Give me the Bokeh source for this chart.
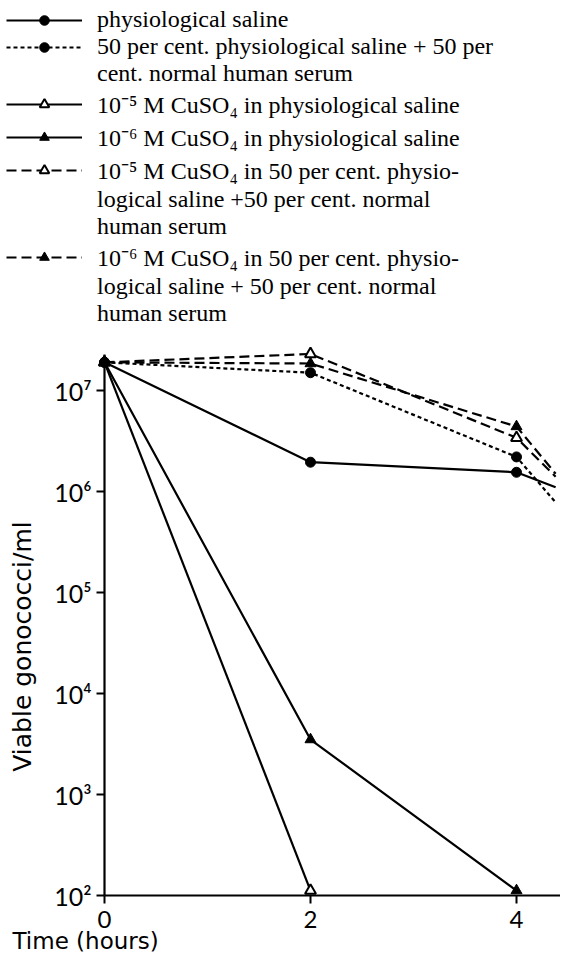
import math
from bokeh.plotting import figure
from bokeh.models import Legend, LegendItem, FixedTicker, Range1d, Label
from bokeh.embed import file_html
from bokeh.resources import INLINE

# ---- data ----
hours = [0, 2, 4, 4.38]           # last value: where the lines leave the picture
hours_cu5_saline = [0, 2]

saline = [1.9e7, 1.95e6, 1.55e6, 1.1e6]
serum = [1.9e7, 1.5e7, 2.2e6, 7.8e5]
cu5_saline = [1.9e7, 112]
cu6_saline = [1.9e7, 3.5e3, 112]
cu5_serum = [1.9e7, 2.3e7, 3.4e6, 1.4e6]
cu6_serum = [1.9e7, 1.85e7, 4.4e6, 1.5e6]

x_ticks = [0, 2, 4]
y_ticks = [10**2, 10**3, 10**4, 10**5, 10**6, 10**7]
y_tick_labels = ["10²", "10³", "10⁴", "10⁵", "10⁶", "10⁷"]

legend_rows = [
    "physiological saline",
    "50 per cent. physiological saline + 50 per",
    "cent. normal human serum",
    "10⁻⁵ M CuSO₄ in physiological saline",
    "10⁻⁶ M CuSO₄ in physiological saline",
    "10⁻⁵ M CuSO₄ in 50 per cent. physio-",
    "logical saline +50 per cent. normal",
    "human serum",
    "10⁻⁶ M CuSO₄ in 50 per cent. physio-",
    "logical saline + 50 per cent. normal",
    "human serum",
]

# ---- layout (pixels) ----
W, H = 560, 956
X0 = 104          # pixel of 0 h
PX_H = 103.0      # pixels per hour
Y2 = 895          # pixel of 10^2
PX_DEC = 101.0    # pixels per decade

LW = 2.2
DASH = "10 5"
DOT = "4 3"

styles = [
    (None, "circle", "black", 1),     # physiological saline
    (DOT, "circle", "black", 1),      # 50 % saline + 50 % serum
    (None, "triangle", "white", 2),   # 1e-5 CuSO4 saline
    (None, "triangle", "black", 1),   # 1e-6 CuSO4 saline
    (DASH, "triangle", "white", 2),   # 1e-5 CuSO4 serum
    (DASH, "triangle", "black", 1),   # 1e-6 CuSO4 serum
]
msize = {"circle": 10, "triangle": 11}

series = [
    (hours, saline, hours[:3], saline[:3]),
    (hours, serum, hours[:3], serum[:3]),
    (hours_cu5_saline, cu5_saline, hours_cu5_saline, cu5_saline),
    (hours[:3], cu6_saline, hours[:3], cu6_saline),
    (hours, cu5_serum, hours[:3], cu5_serum[:3]),
    (hours, cu6_serum, hours[:3], cu6_serum[:3]),
]

x_range = Range1d(-X0 / PX_H, (W - X0) / PX_H)
y_range = Range1d(10 ** (2 - (H - Y2) / PX_DEC), 10 ** (2 + Y2 / PX_DEC))

p = figure(width=W, height=H, output_backend="svg", toolbar_location=None,
           y_axis_type="log", x_range=x_range, y_range=y_range,
           min_border=0, min_border_left=0, min_border_right=0,
           min_border_top=0, min_border_bottom=0)
p.outline_line_color = None
p.grid.visible = False

renderers = []
for (lx, ly, mx, my), (dash, mk, fill, mlw) in zip(series, styles):
    kw = dict(line_width=LW, line_color="black")
    if dash:
        kw["line_dash"] = dash
    rl = p.line(lx, ly, **kw)
    rm = p.scatter(mx, my, marker=mk, size=msize[mk], fill_color=fill,
                   line_color="black", line_width=mlw)
    renderers.append([rl, rm])
blank = p.line(x=[], y=[], line_alpha=0)

# axes drawn at the data origin (0 h, 10^2)
xa = p.xaxis[0]
xa.fixed_location = 100
xa.bounds = (0, (W - X0) / PX_H)
xa.ticker = FixedTicker(ticks=x_ticks)
xa.minor_tick_line_color = None
xa.major_tick_out = 8
xa.major_tick_in = 0
xa.major_tick_line_width = 2
xa.axis_line_width = LW
xa.major_label_standoff = 7
xa.major_label_text_font = "Lato"
xa.major_label_text_font_size = "24px"
xa.major_label_text_color = "black"

ya = p.yaxis[0]
ya.fixed_location = 0
ya.bounds = (100, 10**7.36)
ya.ticker = FixedTicker(ticks=y_ticks)
ya.minor_tick_line_color = None
ya.major_tick_out = 8
ya.major_tick_in = 0
ya.major_tick_line_width = 2
ya.axis_line_width = LW
ya.major_label_standoff = 5
ya.major_label_text_font = "Lato"
ya.major_label_text_font_size = "25px"
ya.major_label_text_color = "black"
ya.major_label_overrides = {t: s for t, s in zip(y_ticks, y_tick_labels)}

p.add_layout(Label(x=22, y=H - 646, x_units="screen", y_units="screen",
                   text="Viable gonococci/ml", angle=math.pi / 2,
                   text_align="center", text_baseline="middle",
                   text_font="DejaVu Sans", text_font_size="25px", text_color="black"))
p.add_layout(Label(x=12, y=H - 940, x_units="screen", y_units="screen",
                   text="Time (hours)", text_align="left", text_baseline="middle",
                   text_font="DejaVu Sans", text_font_size="23px", text_color="black"))

row_renderers = [
    renderers[0],
    renderers[1], [blank],
    renderers[2],
    renderers[3],
    renderers[4], [blank], [blank],
    renderers[5], [blank], [blank],
]
items = [LegendItem(label=t, renderers=r) for t, r in zip(legend_rows, row_renderers)]

legend = Legend(items=items, location="top_left",
                glyph_width=76, glyph_height=24, label_height=20, label_standoff=15,
                spacing=0, padding=0, margin=6,
                label_text_font="Liberation Serif", label_text_font_size="24px",
                label_text_color="black",
                background_fill_alpha=0, border_line_alpha=0)
p.add_layout(legend, "center")

open("out.html", "w").write(file_html(p, INLINE))
